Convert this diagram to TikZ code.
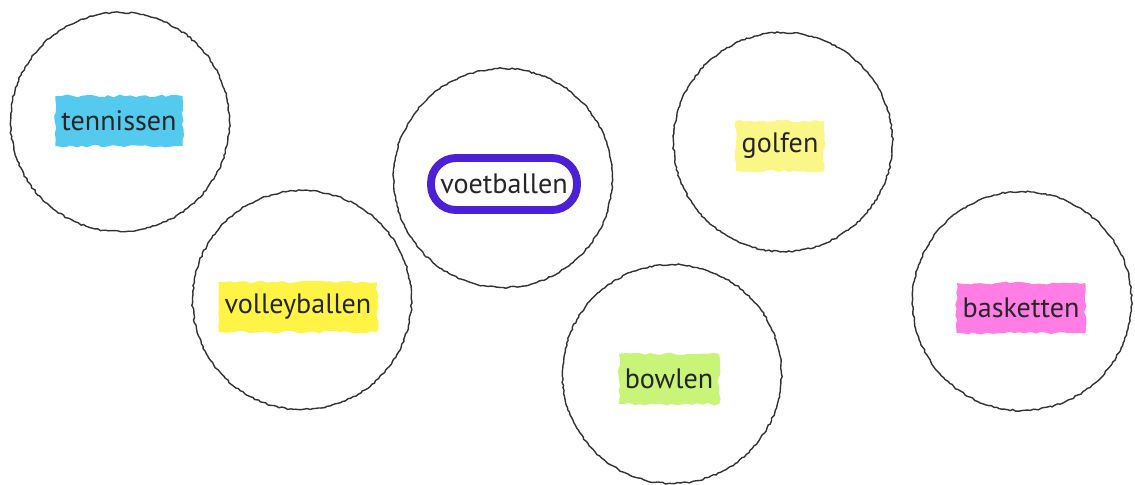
\documentclass[tikz,border=0pt]{standalone}
\usepackage{fontspec}
\setmainfont{PT Sans}
\usetikzlibrary{decorations.pathmorphing}

\definecolor{markcyan}{RGB}{84,202,238}
\definecolor{markyellow}{RGB}{255,244,70}
\definecolor{markpale}{RGB}{250,246,135}
\definecolor{markgreen}{RGB}{200,244,120}
\definecolor{markpink}{RGB}{255,125,228}
\definecolor{ringblue}{RGB}{76,32,214}

\begin{document}
\pgfmathsetseed{7}
\begin{tikzpicture}[
  x=0.02cm, y=-0.02cm,
  ball/.style={circle,draw=black!80,line width=0.8pt,minimum size=4.38cm,inner sep=0pt,
    decorate,decoration={random steps,segment length=1.6pt,amplitude=0.45pt}},
  tag/.style={font=\fontsize{16}{18}\selectfont,text=black!85,inner xsep=0.12cm,
    minimum height=1cm,decorate,decoration={random steps,segment length=3pt,amplitude=0.8pt}},
  ring/.style={draw=ringblue,line width=4.5pt,rounded corners=0.5cm,
    minimum height=1.04cm,minimum width=2.92cm,inner sep=0pt,font=\fontsize{16}{18}\selectfont,text=black!85}
]
  \useasboundingbox (0,0) rectangle (1135,484);

  % the six circles
  \node[ball] (tennis) at (120,122) {};
  \node[ball] (volley) at (302,300) {};
  \node[ball] (voet)   at (503,178) {};
  \node[ball] (golf)   at (783,142) {};
  \node[ball] (bowl)   at (672,374) {};
  \node[ball] (basket) at (1022,301) {};

  % highlighted words
  \node[tag,fill=markcyan]   (tennisword) at (119,121) {tennissen};
  \node[tag,fill=markyellow] (volleyword) at (298,307) {volleyballen};
  \node[tag,fill=markpale]   (golfword)   at (780,146) {golfen};
  \node[tag,fill=markgreen]  (bowlword)   at (669,379) {bowlen};
  \node[tag,fill=markpink]   (basketword) at (1021,308) {basketten};

  % the chosen one
  \node[ring] (voetword) at (504,184) {voetballen};
\end{tikzpicture}
\end{document}
